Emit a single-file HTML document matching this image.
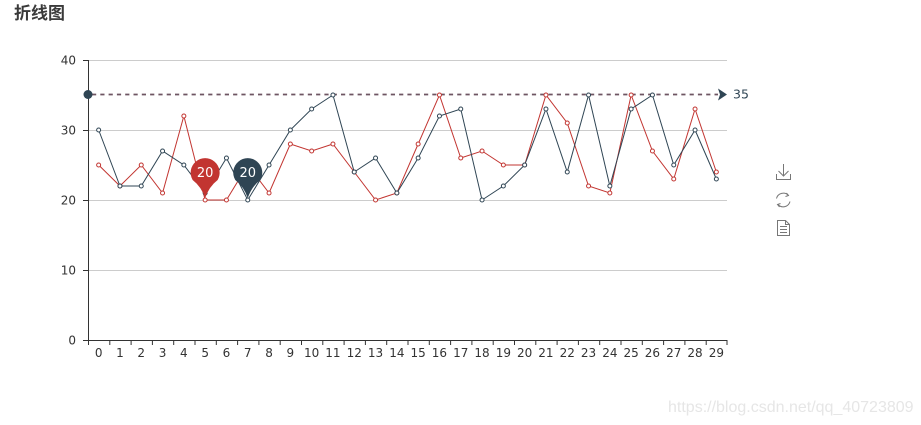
<!DOCTYPE html>
<html><head><meta charset="utf-8"><style>
html,body{margin:0;padding:0;background:#fff;}
svg{display:block;}
text{font-family:"DejaVu Sans","Liberation Sans","Noto Sans CJK SC",sans-serif;}
</style></head><body>
<svg width="921" height="425" viewBox="0 0 921 425" xmlns="http://www.w3.org/2000/svg">
<text x="14" y="19" font-size="17" font-weight="bold" fill="#3a3a3a" style="font-family:'Noto Sans CJK SC','WenQuanYi Zen Hei',sans-serif">折线图</text>
<!-- grid -->
<g stroke="#ccc" stroke-width="1">
<line x1="88" y1="60.5" x2="727" y2="60.5"/>
<line x1="88" y1="130.5" x2="727" y2="130.5"/>
<line x1="88" y1="200.5" x2="727" y2="200.5"/>
<line x1="88" y1="270.5" x2="727" y2="270.5"/>
</g>
<!-- axes -->
<g stroke="#333" stroke-width="1">
<line x1="88.5" y1="60" x2="88.5" y2="340"/>
<line x1="88" y1="340.5" x2="727" y2="340.5"/>
<line x1="83" y1="60.5" x2="88" y2="60.5"/>
<line x1="83" y1="130.5" x2="88" y2="130.5"/>
<line x1="83" y1="200.5" x2="88" y2="200.5"/>
<line x1="83" y1="270.5" x2="88" y2="270.5"/>
<line x1="83" y1="340.5" x2="88" y2="340.5"/>
<path d="M88.5 340v5M109.8 340v5M131.1 340v5M152.4 340v5M173.7 340v5M195 340v5M216.3 340v5M237.6 340v5M258.9 340v5M280.2 340v5M301.5 340v5M322.8 340v5M344.1 340v5M365.4 340v5M386.7 340v5M408 340v5M429.3 340v5M450.6 340v5M471.9 340v5M493.2 340v5M514.5 340v5M535.8 340v5M557.1 340v5M578.4 340v5M599.7 340v5M621 340v5M642.3 340v5M663.6 340v5M684.9 340v5M706.2 340v5M727 340v5"/>
</g>
<g font-size="12" fill="#333" text-anchor="end">
<text x="76" y="64.5">40</text>
<text x="76" y="134.5">30</text>
<text x="76" y="204.5">20</text>
<text x="76" y="274.5">10</text>
<text x="76" y="344.5">0</text>
</g>
<g font-size="12" fill="#333" text-anchor="middle">
<text x="98.65" y="357">0</text><text x="119.95" y="357">1</text><text x="141.25" y="357">2</text><text x="162.55" y="357">3</text><text x="183.85" y="357">4</text><text x="205.15" y="357">5</text><text x="226.45" y="357">6</text><text x="247.75" y="357">7</text><text x="269.05" y="357">8</text><text x="290.35" y="357">9</text><text x="311.65" y="357">10</text><text x="332.95" y="357">11</text><text x="354.25" y="357">12</text><text x="375.55" y="357">13</text><text x="396.85" y="357">14</text><text x="418.15" y="357">15</text><text x="439.45" y="357">16</text><text x="460.75" y="357">17</text><text x="482.05" y="357">18</text><text x="503.35" y="357">19</text><text x="524.65" y="357">20</text><text x="545.95" y="357">21</text><text x="567.25" y="357">22</text><text x="588.55" y="357">23</text><text x="609.85" y="357">24</text><text x="631.15" y="357">25</text><text x="652.45" y="357">26</text><text x="673.75" y="357">27</text><text x="695.05" y="357">28</text><text x="716.35" y="357">29</text>
</g>
<!-- markLine -->
<line x1="92" y1="94.5" x2="718" y2="94.5" stroke="#6e5562" stroke-width="1.8" stroke-dasharray="4.2,4.1"/>
<circle cx="88" cy="94.5" r="4.5" fill="#2f4554"/>
<path d="M718 88.5L727 94.5L718 100.5L720 94.5Z" fill="#2f4554"/>
<text x="733" y="98.5" font-size="12.5" fill="#2f4554">35</text>
<!-- red series -->
<polyline fill="none" stroke="#c23531" stroke-width="1" points="98.65,165 119.95,186 141.25,165 162.55,193 183.85,116 205.15,200 226.45,200 247.75,165 269.05,193 290.35,144 311.65,151 332.95,144 354.25,172 375.55,200 396.85,193 418.15,144 439.45,95 460.75,158 482.05,151 503.35,165 524.65,165 545.95,95 567.25,123 588.55,186 609.85,193 631.15,95 652.45,151 673.75,179 695.05,109 716.35,172"/>
<g fill="#fff" stroke="#c23531" stroke-width="1">
<circle cx="98.65" cy="165" r="2"/><circle cx="119.95" cy="186" r="2"/><circle cx="141.25" cy="165" r="2"/><circle cx="162.55" cy="193" r="2"/><circle cx="183.85" cy="116" r="2"/><circle cx="205.15" cy="200" r="2"/><circle cx="226.45" cy="200" r="2"/><circle cx="247.75" cy="165" r="2"/><circle cx="269.05" cy="193" r="2"/><circle cx="290.35" cy="144" r="2"/><circle cx="311.65" cy="151" r="2"/><circle cx="332.95" cy="144" r="2"/><circle cx="354.25" cy="172" r="2"/><circle cx="375.55" cy="200" r="2"/><circle cx="396.85" cy="193" r="2"/><circle cx="418.15" cy="144" r="2"/><circle cx="439.45" cy="95" r="2"/><circle cx="460.75" cy="158" r="2"/><circle cx="482.05" cy="151" r="2"/><circle cx="503.35" cy="165" r="2"/><circle cx="524.65" cy="165" r="2"/><circle cx="545.95" cy="95" r="2"/><circle cx="567.25" cy="123" r="2"/><circle cx="588.55" cy="186" r="2"/><circle cx="609.85" cy="193" r="2"/><circle cx="631.15" cy="95" r="2"/><circle cx="652.45" cy="151" r="2"/><circle cx="673.75" cy="179" r="2"/><circle cx="695.05" cy="109" r="2"/><circle cx="716.35" cy="172" r="2"/>
</g>
<!-- blue series -->
<polyline fill="none" stroke="#2f4554" stroke-width="1" points="98.65,130 119.95,186 141.25,186 162.55,151 183.85,165 205.15,193 226.45,158 247.75,200 269.05,165 290.35,130 311.65,109 332.95,95 354.25,172 375.55,158 396.85,193 418.15,158 439.45,116 460.75,109 482.05,200 503.35,186 524.65,165 545.95,109 567.25,172 588.55,95 609.85,186 631.15,109 652.45,95 673.75,165 695.05,130 716.35,179"/>
<g fill="#fff" stroke="#2f4554" stroke-width="1">
<circle cx="98.65" cy="130" r="2"/><circle cx="119.95" cy="186" r="2"/><circle cx="141.25" cy="186" r="2"/><circle cx="162.55" cy="151" r="2"/><circle cx="183.85" cy="165" r="2"/><circle cx="205.15" cy="193" r="2"/><circle cx="226.45" cy="158" r="2"/><circle cx="247.75" cy="200" r="2"/><circle cx="269.05" cy="165" r="2"/><circle cx="290.35" cy="130" r="2"/><circle cx="311.65" cy="109" r="2"/><circle cx="332.95" cy="95" r="2"/><circle cx="354.25" cy="172" r="2"/><circle cx="375.55" cy="158" r="2"/><circle cx="396.85" cy="193" r="2"/><circle cx="418.15" cy="158" r="2"/><circle cx="439.45" cy="116" r="2"/><circle cx="460.75" cy="109" r="2"/><circle cx="482.05" cy="200" r="2"/><circle cx="503.35" cy="186" r="2"/><circle cx="524.65" cy="165" r="2"/><circle cx="545.95" cy="109" r="2"/><circle cx="567.25" cy="172" r="2"/><circle cx="588.55" cy="95" r="2"/><circle cx="609.85" cy="186" r="2"/><circle cx="631.15" cy="109" r="2"/><circle cx="652.45" cy="95" r="2"/><circle cx="673.75" cy="165" r="2"/><circle cx="695.05" cy="130" r="2"/><circle cx="716.35" cy="179" r="2"/>
</g>
<!-- pins -->
<path d="M192.65 180 A14.5 14.5 0 1 1 217.65 180 Q209.15 186.5 205.15 198 Q201.15 186.5 192.65 180 Z" fill="#c23531"/>
<text x="205.15" y="177" font-size="13" fill="#fff" text-anchor="middle">20</text>
<path d="M235.25 180 A14.5 14.5 0 1 1 260.25 180 Q251.75 186.5 247.75 198 Q243.75 186.5 235.25 180 Z" fill="#2f4554"/>
<text x="247.75" y="177" font-size="13" fill="#fff" text-anchor="middle">20</text>
<!-- toolbox -->
<g fill="none" stroke="#777" stroke-width="1">
<path d="M783.5 164v12M778.5 171l5 5 5-5M776.5 174v5.5h14v-5.5"/>
<path d="M776.5 198.5A7 7 0 0 1 788.5 195.5M790 201.5A7 7 0 0 1 778 204.5"/>
<path d="M786.5 193l2 2.5-3 1M779.5 207l-2-2.5 3-1"/>
<path d="M777.5 220.5h8l4 4v11h-12zM785.5 220.5v4h4M780 226.5h7M780 229.5h7M780 232.5h7"/>
</g>
<text x="668" y="412" font-size="16" fill="#e6e6e6" style="font-family:'Liberation Sans',sans-serif">https://blog.csdn.net/qq_40723809</text>
</svg>
</body></html>
